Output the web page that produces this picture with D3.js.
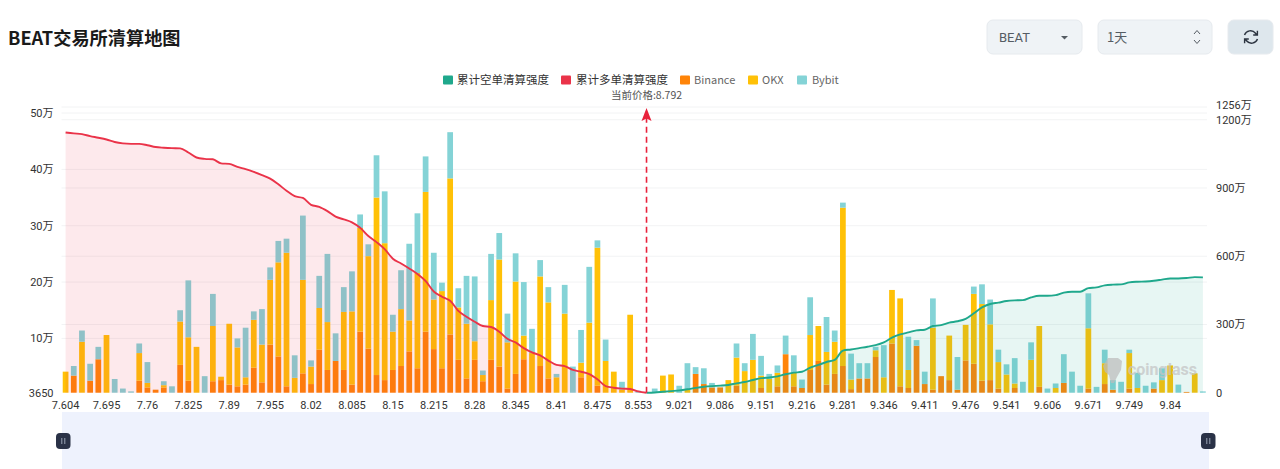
<!DOCTYPE html>
<html lang="zh">
<head>
<meta charset="utf-8">
<title>BEAT交易所清算地图</title>
<script src="https://cdn.jsdelivr.net/npm/d3@7/dist/d3.min.js"></script>
<style>
  html, body { margin: 0; padding: 0; background: #fff; }
  svg { display: block; }
  text { font-family: Roboto, "Noto Sans CJK SC", sans-serif; }
  .cjk { font-family: "Noto Sans CJK SC", Roboto, sans-serif; }
</style>
</head>
<body>
<svg id="chart" width="1280" height="469"></svg>
<script>
// Liquidation per price level, thousands of USD, one entry per price bucket
const binance = [0,34,0,25,63,0,0,0,0,25,13,9,13,0,53,25,0,0,24,26,18,15,18,48,22,89,68,15,0,38,19,80,44,60,44,18,112,82,35,26,44,51,77,47,112,81,47,107,62,29,62,24,62,50,11,37,63,0,51,29,0,0,0,31,0,16,0,0,0,0,0,0,0,0,0,0,0,37,19,13,13,0,16,0,0,12,0,15,72,15,12,44,60,18,37,51,10,29,29,67,0,91,15,12,87,19,9,33,26,9,61,55,25,26,11,0,12,0,0,14,0,0,21,0,0,11,0,19,9,0,11,0,0,11,0,0,0,5,0,0];
const okx = [41,0,94,0,0,106,0,0,0,49,8,0,4,0,77,77,85,0,98,6,108,69,13,85,67,115,167,237,30,166,31,74,85,0,103,130,184,164,315,243,68,101,55,169,248,88,137,277,93,97,33,11,106,190,82,164,42,74,159,135,31,144,0,26,128,245,60,41,9,142,0,0,0,34,36,0,9,0,0,0,0,26,50,42,62,22,28,24,0,24,0,62,62,58,57,281,17,0,0,12,31,95,156,32,0,0,110,0,79,0,63,124,136,99,47,36,8,0,62,108,0,12,0,0,0,107,0,37,0,0,63,12,0,0,26,52,0,0,38,0];
const bybit = [0,17,20,30,22,0,28,11,6,17,37,0,7,15,20,101,0,33,57,0,0,16,88,15,63,22,38,25,40,114,11,57,121,49,44,71,24,21,75,92,30,69,136,106,63,83,15,82,34,85,115,8,82,47,51,50,95,43,29,27,6,51,50,58,99,13,38,0,14,0,7,0,11,0,0,16,47,12,28,8,0,0,25,14,46,35,9,13,33,31,15,67,0,62,20,9,46,27,27,6,57,0,0,59,10,22,52,0,0,58,0,13,35,44,22,18,45,23,31,0,11,8,51,41,16,62,14,24,17,23,6,27,16,11,21,0,18,0,0,6];

// Cumulative intensity, in units of 10,000 USD; long side ends and short side starts at the current price
const cumulativeLong = [1144,1140,1137,1128,1121,1113,1102,1096,1094,1094,1088,1080,1077,1075,1074,1056,1034,1028,1026,1008,1006,993,983,971,957,941,916,888,864,856,826,817,798,774,762,749,725,689,662,631,589,568,546,522,491,445,422,404,360,334,312,293,289,268,237,221,196,177,164,141,122,117,100,92,82,59,29,22,18,16,6,0];
const cumulativeShort = [0,1,4,7,10,15,21,26,29,31,34,41,47,56,64,67,72,81,88,92,110,122,135,144,185,190,196,202,209,221,242,256,265,274,277,293,297,308,314,325,349,375,390,396,403,406,407,419,426,426,429,440,444,444,460,463,472,475,476,485,488,489,492,497,502,502,504,508,507];

// Axis labels, one price label for every fifth bucket
const priceLabels = ["7.604","7.695","7.76","7.825","7.89","7.955","8.02","8.085","8.15","8.215","8.28","8.345","8.41","8.475","8.553","9.021","9.086","9.151","9.216","9.281","9.346","9.411","9.476","9.541","9.606","9.671","9.749","9.84"];
const leftTicks = [3650,100000,200000,300000,400000,500000];
const rightTicks = [0,300,600,900,1200,1256];
const currentPrice = "8.792";

const exchanges = [
  { name: "Binance", color: "#FF8408", values: binance },
  { name: "OKX", color: "#FFC107", values: okx },
  { name: "Bybit", color: "#84D3D6", values: bybit }
];
const shortColor = "#1FA88C";
const longColor = "#EA3349";

const svg = d3.select("#chart");
const plot = { left: 61.5, right: 1207, top: 107, bottom: 392.7 };

const x = d3.scaleBand().domain(d3.range(binance.length)).range([plot.left, plot.right]).paddingInner(0.3).paddingOuter(0.15);
const yLeft = d3.scaleLinear().domain([3650, 510700]).range([plot.bottom, plot.top]);
const yRight = d3.scaleLinear().domain([0, 1256]).range([plot.bottom, plot.top]);
const cx = i => x(i) + x.bandwidth() / 2;

// Header
svg.append("text").attr("class", "cjk").attr("x", 8).attr("y", 45)
  .attr("font-size", 18.2).attr("font-weight", 700).attr("fill", "#1a1a1a").text("BEAT交易所清算地图");

const box = (bx, w, fill) => svg.append("rect").attr("x", bx).attr("y", 20).attr("width", w).attr("height", 34)
  .attr("rx", 6).attr("fill", fill).attr("stroke", "#e6eaee").attr("stroke-width", 1);
box(987, 95, "#EFF3F6");
box(1098, 114, "#EFF3F6");
box(1228, 45, "#DEE7ED");
svg.append("text").attr("x", 999).attr("y", 42).attr("font-size", 13).attr("fill", "#555c63").text("BEAT");
svg.append("path").attr("d", "M1061 36h7l-3.5 3.5z").attr("fill", "#555c63");
svg.append("text").attr("class", "cjk").attr("x", 1107).attr("y", 42).attr("font-size", 13).attr("fill", "#555c63").text("1天");
svg.append("path").attr("d", "M1194 34l3-3.5 3 3.5M1194 40l3 3.5 3-3.5").attr("fill", "none").attr("stroke", "#555c63").attr("stroke-width", 1);
svg.append("path")
  .attr("d", "M1244.5 35a6.4 6.4 0 0 1 11-1.8l1.5 1.8M1257.5 39a6.4 6.4 0 0 1-11 1.8l-1.5-1.8M1257.4 30.8v4.2h-4.2M1244.6 43.2v-4.2h4.2")
  .attr("fill", "none").attr("stroke", "#2c3440").attr("stroke-width", 1.4);

// Horizontal grid for both value axes
const gridYs = leftTicks.slice(1).map(yLeft).concat(rightTicks.slice(1).map(yRight));
svg.append("g").selectAll("line").data(gridYs).join("line")
  .attr("x1", plot.left).attr("x2", plot.right).attr("y1", d => d).attr("y2", d => d)
  .attr("stroke", "#f2f3f4").attr("stroke-width", 1);

// Stacked exchange bars
const stacked = d3.stack().keys(exchanges.map((_, k) => k)).value((i, k) => exchanges[k].values[i])(d3.range(binance.length));
const clampY = v => yLeft(Math.max(3650, v));
svg.append("g").selectAll("g").data(stacked).join("g")
  .attr("fill", (_, k) => exchanges[k].color)
  .selectAll("rect").data(s => s.map(p => ({ i: p.data, y0: p[0] * 1000, y1: p[1] * 1000 })))
  .join("rect")
  .attr("x", d => x(d.i))
  .attr("width", x.bandwidth())
  .attr("y", d => clampY(d.y1))
  .attr("height", d => clampY(d.y0) - clampY(d.y1));

// Cumulative areas and lines on the right axis
const longPts = cumulativeLong.map((v, i) => ({ i, v }));
const shortStart = cumulativeLong.length - 1;
const shortPts = cumulativeShort.map((v, k) => ({ i: shortStart + k, v }));
const area = d3.area().x(d => cx(d.i)).y0(plot.bottom).y1(d => yRight(d.v)).curve(d3.curveMonotoneX);
const line = d3.line().x(d => cx(d.i)).y(d => yRight(d.v)).curve(d3.curveMonotoneX);
[[longPts, longColor], [shortPts, shortColor]].forEach(([pts, color]) => {
  svg.append("path").attr("d", area(pts)).attr("fill", color).attr("fill-opacity", 0.105);
  svg.append("path").attr("d", line(pts)).attr("fill", "none").attr("stroke", color).attr("stroke-width", 1.9);
});

// Current price marker
const markX = cx(shortStart);
svg.append("line").attr("x1", markX).attr("x2", markX).attr("y1", plot.bottom).attr("y2", 118)
  .attr("stroke", "#E8213B").attr("stroke-width", 1.6).attr("stroke-dasharray", "6 4");
svg.append("path").attr("transform", `translate(${markX},108)`).attr("d", "M0 0L5 13L0 10.5L-5 13Z").attr("fill", "#E8213B");
svg.append("text").attr("class", "cjk").attr("x", markX).attr("y", 99).attr("text-anchor", "middle")
  .attr("font-size", 10.5).attr("fill", "#555").text("当前价格:" + currentPrice);

// Axes
const wan = v => v === 3650 ? "3650" : (v / 10000) + "万";
const gL = svg.append("g").attr("transform", `translate(${plot.left},0)`)
  .call(d3.axisLeft(yLeft).tickValues(leftTicks).tickFormat(wan).tickSize(0).tickPadding(8));
const gR = svg.append("g").attr("transform", `translate(${plot.right},0)`)
  .call(d3.axisRight(yRight).tickValues(rightTicks).tickFormat(v => v === 0 ? "0" : v + "万").tickSize(0).tickPadding(9));
const gB = svg.append("g").attr("transform", `translate(0,${plot.bottom})`)
  .call(d3.axisBottom(x).tickValues(priceLabels.map((_, k) => k * 5)).tickFormat(i => priceLabels[i / 5]).tickSize(0).tickPadding(9));
[gL, gR, gB].forEach(g => {
  g.select(".domain").remove();
  g.selectAll("text").attr("font-size", 11).attr("fill", "#333")
    .style("font-family", 'Roboto, "Noto Sans CJK SC", sans-serif');
});
gR.selectAll(".tick").filter(d => d === 1256).select("text").attr("dy", "0.1em");

// Legend
const legend = [
  { label: "累计空单清算强度", color: shortColor, sx: 443, tx: 457, fill: "#333", size: 11.5 },
  { label: "累计多单清算强度", color: longColor, sx: 561, tx: 576, fill: "#333", size: 11.5 },
  { label: "Binance", color: exchanges[0].color, sx: 680, tx: 694, fill: "#666", size: 11 },
  { label: "OKX", color: exchanges[1].color, sx: 748, tx: 762, fill: "#666", size: 11 },
  { label: "Bybit", color: exchanges[2].color, sx: 797, tx: 812, fill: "#666", size: 11 }
];
const lg = svg.append("g").selectAll("g").data(legend).join("g");
lg.append("rect").attr("x", d => d.sx).attr("y", 75.5).attr("width", 10).attr("height", 9).attr("rx", 1).attr("fill", d => d.color);
lg.append("text").attr("class", "cjk").attr("x", d => d.tx).attr("y", 84).attr("font-size", d => d.size).attr("fill", d => d.fill).text(d => d.label);

// Watermark
const mark = svg.append("g").attr("opacity", 0.72);
mark.append("path").attr("d", "M1103 366l5-8h10l4 3-1 9-4 7-3 6h-3l-2-8-4-3z").attr("fill", "#bdbdbd");
mark.append("text").attr("x", 1128).attr("y", 375).attr("font-size", 16).attr("font-weight", 700).attr("fill", "#c4c4c4").text("coinglass");

// Range slider under the chart
svg.append("rect").attr("x", 62).attr("y", 412).attr("width", 1147).attr("height", 57).attr("fill", "#EEF2FD");
[56, 1201].forEach(hx => {
  svg.append("rect").attr("x", hx).attr("y", 433).attr("width", 14.5).attr("height", 16).attr("rx", 4).attr("fill", "#2A3247");
  svg.append("path").attr("d", `M${hx + 5.8} 438v6M${hx + 8.8} 438v6`).attr("stroke", "#9aa3b5").attr("stroke-width", 1);
});
</script>
</body>
</html>
